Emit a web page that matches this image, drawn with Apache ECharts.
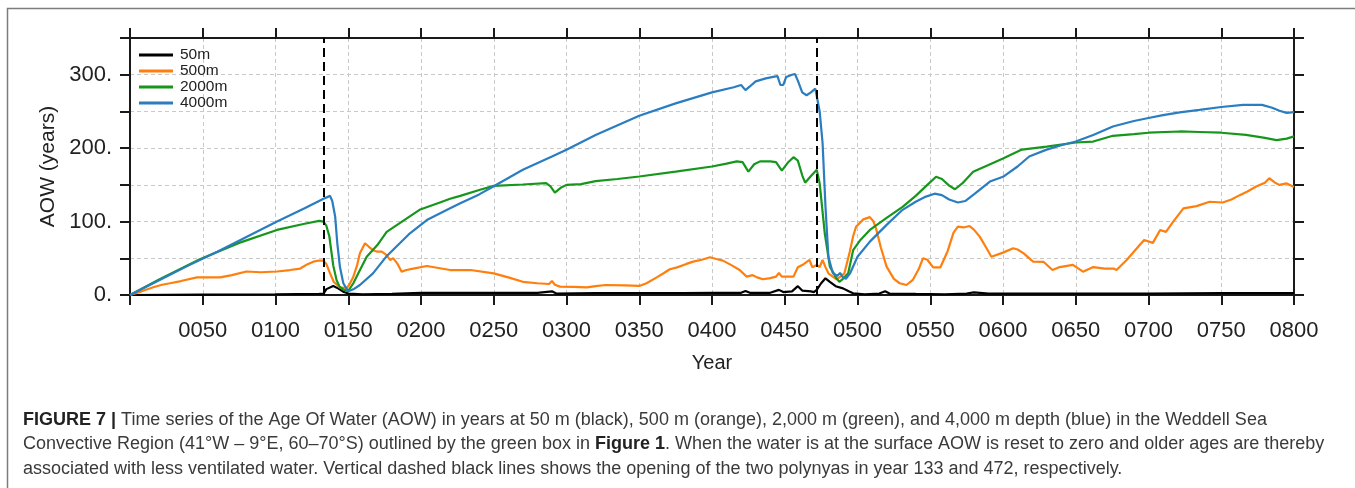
<!DOCTYPE html>
<html>
<head>
<meta charset="utf-8">
<script src="https://cdn.jsdelivr.net/npm/echarts@6/dist/echarts.min.js"></script>
<style>
  html, body { margin: 0; padding: 0; background: #fff; }
  #chart { width: 1355px; height: 488px; }
</style>
</head>
<body>
<div id="chart"></div>
<script>
// Age Of Water (AOW, years) at four depths in the Weddell Sea convective region
const seriesNames = ['50m', '500m', '2000m', '4000m'];
const seriesColors = ['#000000', '#ff7f0e', '#17961c', '#2a7dc0'];

// 50 m (black)
const years50 = [0, 50, 100, 130, 133, 135, 139.7, 143, 147, 150, 160, 180, 200, 220, 250, 280, 290, 293, 320, 350, 380, 400, 420, 423, 426, 440, 446, 449, 455, 459, 462, 468, 470, 472, 475, 478, 481, 485, 490, 494, 497, 505, 515, 519, 522, 540, 560, 575, 580, 590, 620, 650, 700, 750, 800];
const aow50 = [0, 0.5, 1, 1.5, 2, 8, 12.3, 9, 4, 2, 1, 1.5, 3, 3, 3, 3, 5, 2, 2.5, 2.5, 2.5, 3, 3, 5.5, 3, 3, 7, 4, 5, 12, 6, 5, 4, 7, 16, 22.7, 18, 12, 9, 5, 2.3, 1, 2, 5, 2, 1.5, 1, 2, 3.5, 2, 2, 2, 2, 2.5, 2.5];

// 500 m (orange)
const years500 = [0, 8, 16, 22, 27.5, 35, 46, 55, 62, 70, 80, 90, 101, 110, 117, 122, 126, 130, 133, 135, 137.5, 140, 144, 149, 151, 153.5, 156, 158, 161.5, 164, 167, 170, 173, 176, 178.7, 181, 184, 186.7, 190, 194.7, 204, 213, 220, 234, 250, 260, 270, 280, 288, 290, 292, 295.5, 305, 314, 320, 327, 340, 350, 355, 362, 367, 371, 376, 382, 387, 393, 398.6, 403, 407.5, 413, 419, 423.8, 428, 431, 435, 440, 444, 446, 448, 456, 459, 463, 467, 469, 472, 474, 476, 478, 480, 485.6, 489, 491, 494.7, 497, 499, 504, 508.5, 511, 513, 516, 520, 525, 529, 533.7, 538, 542, 545, 548, 552, 557, 562, 566, 569, 573, 577, 580, 584, 588, 592, 600, 607, 610, 614, 620.7, 628, 634, 639, 648, 655, 662, 670, 676, 678, 685, 692, 697, 703, 708, 712, 717, 724, 733, 742, 751, 757, 762.7, 768, 774, 780, 783, 787, 790, 795, 800];
const aow500 = [0, 5, 10.5, 14, 16, 19, 24, 24, 24, 27, 32, 31, 32, 34, 36, 42, 45.4, 47, 46.8, 42, 29.5, 18, 10.5, 9.5, 15, 25, 40, 57, 70.5, 66, 61, 59, 59, 55, 47.7, 50, 42, 31.8, 34, 36, 39.5, 36.4, 34, 34, 29.5, 24, 18, 16, 15, 19, 14, 11.4, 11, 10.5, 12, 13.6, 13, 12.3, 16, 24, 30, 35, 37.6, 42, 45.4, 48, 51.4, 49, 46.8, 41, 34, 25, 27, 24, 21.4, 23, 25, 30, 25, 25, 37.7, 42, 47.7, 37.7, 41, 38, 47.7, 38, 29.5, 21.4, 26, 29.5, 59, 80, 93, 103, 106, 100, 88.6, 65, 38.6, 22, 16, 13.6, 20.5, 35, 50, 48, 37.7, 37.7, 60, 85, 93, 92, 94, 89, 79.5, 66, 52, 57.7, 63.6, 62, 57, 45.4, 45, 34, 38, 41, 31.8, 38, 36, 36, 34, 47.7, 63.6, 75, 71, 88.6, 86, 100, 118, 121, 127, 126, 130, 136, 141, 147.7, 153, 159, 153, 150, 152, 147];

// 2000 m (green)
const years2000 = [0, 20, 48, 75, 101, 120, 130, 133, 135, 137, 139.7, 142, 144, 147, 150, 153.5, 157, 162.7, 170, 176.4, 190, 199, 213, 220, 227, 240, 250, 270, 286, 289, 292, 296, 300, 310, 320, 335, 350, 375, 400, 410, 417, 421, 425, 429, 433, 440, 444, 448, 452, 456, 459, 462, 464, 468, 472, 474, 477.5, 481, 485.6, 487.5, 490, 493.6, 497, 502, 508.5, 520, 531, 540, 548, 554, 558, 563, 567, 572, 579.5, 590, 600, 613, 630, 650, 662, 675.5, 690, 700, 721.5, 735, 750, 767, 780, 788, 795, 800];
const aow2000 = [0, 21, 48.6, 71, 88.6, 97, 101, 100, 94, 80, 40, 20, 11.4, 7, 5.5, 16, 30, 52, 68, 86, 104, 116, 126, 131, 135, 143, 148.6, 150.5, 152.3, 148, 139.5, 146, 150, 151, 155, 158, 161.4, 168, 175, 179, 182, 181, 168, 178, 182, 182, 181, 169.5, 180, 187.7, 183, 163, 153, 162, 170.5, 152, 84, 38.6, 22.7, 18, 22, 29.5, 61, 75, 88.6, 105, 120, 135, 150, 161, 158, 149, 144, 152, 168, 177, 186, 198, 202, 207.7, 209, 216.8, 219, 221, 222.7, 222, 221, 218, 214, 211, 213, 216];

// 4000 m (blue)
const years4000 = [0, 20, 40, 60, 80, 100, 120, 133, 137.5, 139, 141, 142.5, 144.3, 146.6, 150, 153.5, 158, 167, 176, 192.4, 204, 220, 227, 240, 250, 270, 290, 300, 320, 350, 375, 400, 415, 420, 423, 426, 430, 437, 442, 445, 447, 449, 451, 455, 457, 459, 462, 465, 468, 471, 472, 474, 476, 478, 480, 483, 486, 488, 490, 492, 495, 500, 508.5, 520, 531, 540, 547, 553, 558, 563, 569, 574, 580, 591, 600, 610, 618, 630, 640, 650, 662, 675.5, 690, 700, 710, 721.5, 735, 750, 765, 778, 785, 790, 795, 800];
const aow4000 = [0, 20, 40, 59, 79, 99, 118, 131, 135, 128, 107, 70, 38, 16, 5, 7.7, 13.6, 29.5, 52, 84, 102, 118, 125, 137, 148, 170.5, 188.6, 197.7, 218, 244, 261, 276, 283, 286, 279, 284, 291, 295, 297, 298, 286, 286, 297, 300, 301, 292, 276, 272, 276, 281, 280, 250, 207, 120, 52, 30, 26, 30, 24, 22, 30, 52, 72.7, 95.5, 116, 127, 134, 138, 136, 130, 126, 128, 137, 154.5, 161, 175, 188.6, 198, 204, 209, 218, 229.5, 237, 241, 245, 248.6, 252, 256, 259, 259, 255, 251, 248, 249];

// Polynya openings (dashed verticals)
const polynyaYears = [133, 472];

// Axis ticks
const yLabelStep = 100;
const yTickStep = 50;
const xTickStep = 50;

const yearsBySeries = [years50, years500, years2000, years4000];
const valuesBySeries = [aow50, aow500, aow2000, aow4000];

const FONT = "'Liberation Sans', Arial, sans-serif";
const chart = echarts.init(document.getElementById('chart'), null, { renderer: 'canvas' });

function pad4(v) { return String(v).padStart(4, '0'); }

const series = seriesNames.map((name, i) => ({
  name: name,
  type: 'line',
  xAxisIndex: 0,
  yAxisIndex: 0,
  data: yearsBySeries[i].map((x, k) => [x, valuesBySeries[i][k]]),
  showSymbol: false,
  symbol: 'none',
  smooth: false,
  lineStyle: { color: seriesColors[i], width: 2.2 },
  itemStyle: { color: seriesColors[i] },
  z: 3 + i,
  animation: false
}));

series[3].markLine = {
  symbol: 'none',
  silent: true,
  animation: false,
  label: { show: false },
  lineStyle: { color: '#000', type: [9, 5], width: 2 },
  z: 10,
  data: polynyaYears.map(y => ({ xAxis: y }))
};

const axisLineStyle = { color: '#1a1a1a', width: 2 };
const tickStyle = { show: true, inside: false, length: 10, lineStyle: { color: '#1a1a1a', width: 2 } };

const captionFont = '18px ' + FONT;
const boldRich = { b: { fontWeight: 'bold', fill: '#222', fontSize: 18, fontFamily: FONT } };

const option = {
  backgroundColor: '#ffffff',
  animation: false,
  textStyle: { fontFamily: FONT },
  grid: { left: 130, right: 61, top: 38, bottom: 193, containLabel: false },
  legend: {
    data: seriesNames,
    orient: 'vertical',
    left: 134,
    top: 42,
    icon: 'rect',
    itemWidth: 34,
    itemHeight: 3,
    itemGap: 0,
    textStyle: { fontFamily: FONT, fontSize: 15.5, lineHeight: 16, color: '#222', padding: [0, 0, 0, 2] }
  },
  xAxis: [
    {
      type: 'value',
      position: 'bottom',
      min: 0, max: 800, interval: xTickStep,
      name: 'Year',
      nameLocation: 'middle',
      nameGap: 58,
      nameTextStyle: { fontFamily: FONT, fontSize: 20, color: '#222' },
      axisLine: { show: true, onZero: false, lineStyle: axisLineStyle },
      axisTick: tickStyle,
      axisLabel: {
        show: true, margin: 25, fontSize: 22, color: '#222', fontFamily: FONT,
        showMinLabel: true, showMaxLabel: true,
        formatter: v => (v === 0 ? '' : pad4(v))
      },
      splitLine: { show: true, lineStyle: { color: '#c9c9c9', type: [4, 3], width: 1 } }
    },
    {
      type: 'value',
      position: 'top',
      min: 0, max: 800, interval: xTickStep,
      axisLine: { show: true, onZero: false, lineStyle: axisLineStyle },
      axisTick: tickStyle,
      axisLabel: { show: false },
      splitLine: { show: false }
    }
  ],
  yAxis: [
    {
      type: 'value',
      position: 'left',
      min: 0, max: 350, interval: yTickStep,
      name: 'AOW (years)',
      nameLocation: 'middle',
      nameGap: 68,
      nameRotate: 90,
      nameTextStyle: { fontFamily: FONT, fontSize: 21, color: '#222' },
      axisLine: { show: true, onZero: false, lineStyle: axisLineStyle },
      axisTick: tickStyle,
      axisLabel: {
        show: true, margin: 18, fontSize: 22, color: '#222', fontFamily: FONT,
        formatter: v => (v % yLabelStep === 0 ? v + '.' : '')
      },
      splitLine: { show: true, lineStyle: { color: '#c9c9c9', type: [4, 3], width: 1 } }
    },
    {
      type: 'value',
      position: 'right',
      min: 0, max: 350, interval: yTickStep,
      axisLine: { show: true, onZero: false, lineStyle: axisLineStyle },
      axisTick: tickStyle,
      axisLabel: { show: false },
      splitLine: { show: false }
    }
  ],
  series: series,
  graphic: [
    {
      type: 'rect',
      silent: true,
      shape: { x: 7.5, y: 8.5, width: 1400, height: 520 },
      style: { fill: 'none', stroke: '#7d7d7d', lineWidth: 1.5 },
      z: 0
    },
    {
      type: 'text', silent: true,
      style: {
        x: 23, y: 420, verticalAlign: 'middle',
        text: '{b|FIGURE 7 |} Time series of the Age Of Water (AOW) in years at 50 m (black), 500 m (orange), 2,000 m (green), and 4,000 m depth (blue) in the Weddell Sea',
        font: captionFont, fill: '#3a3a3a', rich: boldRich
      }
    },
    {
      type: 'text', silent: true,
      style: {
        x: 23, y: 444.5, verticalAlign: 'middle',
        text: 'Convective Region (41°W – 9°E, 60–70°S) outlined by the green box in {b|Figure 1}. When the water is at the surface AOW is reset to zero and older ages are thereby',
        font: captionFont, fill: '#3a3a3a', rich: boldRich
      }
    },
    {
      type: 'text', silent: true,
      style: {
        x: 23, y: 469, verticalAlign: 'middle',
        text: 'associated with less ventilated water. Vertical dashed black lines shows the opening of the two polynyas in year 133 and 472, respectively.',
        font: captionFont, fill: '#3a3a3a'
      }
    }
  ]
};

chart.setOption(option);
</script>
</body>
</html>
